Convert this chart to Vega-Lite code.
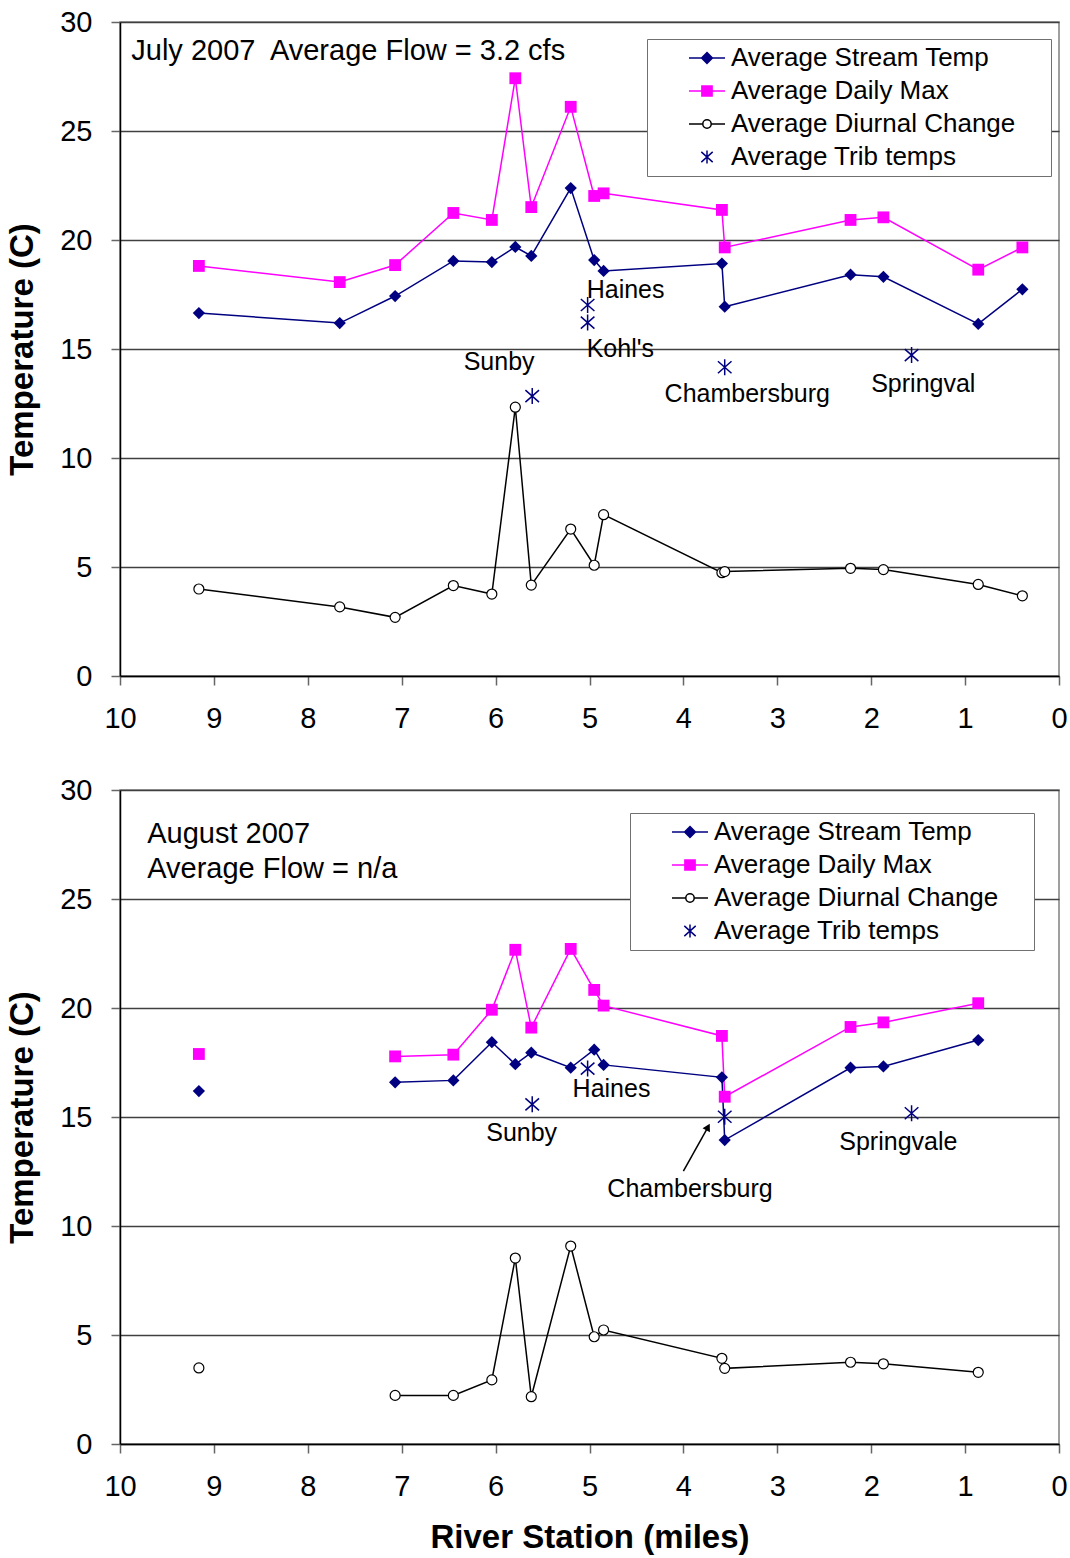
{
  "$schema": "https://vega.github.io/schema/vega-lite/v6.json",
  "description": "Stream temperatures along the river, July and August 2007.",
  "background": "white",
  "padding": {"left": 5, "top": 7, "right": 2, "bottom": 0},
  "spacing": 41,
  "config": {
    "font": "Liberation Sans",
    "view": {"stroke": "#808080", "strokeWidth": 1.5},
    "axis": {
      "labelFont": "Liberation Sans", "labelFontSize": 29, "labelColor": "black", "labelFlush": false,
      "titleFont": "Liberation Sans", "titleFontSize": 33, "titleFontWeight": "bold", "titleColor": "black",
      "domainColor": "black", "domainWidth": 1.5,
      "tickColor": "#666666", "tickWidth": 1.5, "tickSize": 9,
      "gridColor": "#404040", "gridWidth": 1.3
    },
    "axisX": {"grid": false, "labelPadding": 19, "titlePadding": 20},
    "axisY": {"labelPadding": 19, "titlePadding": 20},
    "legend": {
      "title": null, "labelFont": "Liberation Sans", "labelFontSize": 26, "labelColor": "black", "labelLimit": 600,
      "symbolSize": 144, "symbolOffset": 41, "labelOffset": 11, "rowPadding": 7, "padding": 6,
      "strokeColor": "#707070", "fillColor": "white"
    }
  },
  "resolve": {"scale": {"color": "independent"}, "legend": {"color": "independent"}},
  "datasets": {
    "july": [
      {"mile": 9.16, "series": "Average Stream Temp", "temp": 16.65, "run": 1},
      {"mile": 7.66, "series": "Average Stream Temp", "temp": 16.19, "run": 1},
      {"mile": 7.07, "series": "Average Stream Temp", "temp": 17.43, "run": 1},
      {"mile": 6.45, "series": "Average Stream Temp", "temp": 19.04, "run": 1},
      {"mile": 6.04, "series": "Average Stream Temp", "temp": 18.99, "run": 1},
      {"mile": 5.79, "series": "Average Stream Temp", "temp": 19.68, "run": 1},
      {"mile": 5.62, "series": "Average Stream Temp", "temp": 19.27, "run": 1},
      {"mile": 5.20, "series": "Average Stream Temp", "temp": 22.38, "run": 1},
      {"mile": 4.95, "series": "Average Stream Temp", "temp": 19.08, "run": 1},
      {"mile": 4.85, "series": "Average Stream Temp", "temp": 18.58, "run": 1},
      {"mile": 3.59, "series": "Average Stream Temp", "temp": 18.92, "run": 1},
      {"mile": 3.56, "series": "Average Stream Temp", "temp": 16.94, "run": 1},
      {"mile": 2.22, "series": "Average Stream Temp", "temp": 18.41, "run": 1},
      {"mile": 1.87, "series": "Average Stream Temp", "temp": 18.31, "run": 1},
      {"mile": 0.86, "series": "Average Stream Temp", "temp": 16.15, "run": 1},
      {"mile": 0.39, "series": "Average Stream Temp", "temp": 17.74, "run": 1},
      {"mile": 9.16, "series": "Average Daily Max", "temp": 18.81, "run": 1},
      {"mile": 7.66, "series": "Average Daily Max", "temp": 18.07, "run": 1},
      {"mile": 7.07, "series": "Average Daily Max", "temp": 18.85, "run": 1},
      {"mile": 6.45, "series": "Average Daily Max", "temp": 21.24, "run": 1},
      {"mile": 6.04, "series": "Average Daily Max", "temp": 20.92, "run": 1},
      {"mile": 5.79, "series": "Average Daily Max", "temp": 27.42, "run": 1},
      {"mile": 5.62, "series": "Average Daily Max", "temp": 21.51, "run": 1},
      {"mile": 5.20, "series": "Average Daily Max", "temp": 26.11, "run": 1},
      {"mile": 4.95, "series": "Average Daily Max", "temp": 22.02, "run": 1},
      {"mile": 4.85, "series": "Average Daily Max", "temp": 22.14, "run": 1},
      {"mile": 3.59, "series": "Average Daily Max", "temp": 21.38, "run": 1},
      {"mile": 3.56, "series": "Average Daily Max", "temp": 19.66, "run": 1},
      {"mile": 2.22, "series": "Average Daily Max", "temp": 20.92, "run": 1},
      {"mile": 1.87, "series": "Average Daily Max", "temp": 21.04, "run": 1},
      {"mile": 0.86, "series": "Average Daily Max", "temp": 18.64, "run": 1},
      {"mile": 0.39, "series": "Average Daily Max", "temp": 19.66, "run": 1},
      {"mile": 9.16, "series": "Average Diurnal Change", "temp": 3.99, "run": 1},
      {"mile": 7.66, "series": "Average Diurnal Change", "temp": 3.17, "run": 1},
      {"mile": 7.07, "series": "Average Diurnal Change", "temp": 2.69, "run": 1},
      {"mile": 6.45, "series": "Average Diurnal Change", "temp": 4.15, "run": 1},
      {"mile": 6.04, "series": "Average Diurnal Change", "temp": 3.76, "run": 1},
      {"mile": 5.79, "series": "Average Diurnal Change", "temp": 12.33, "run": 1},
      {"mile": 5.62, "series": "Average Diurnal Change", "temp": 4.17, "run": 1},
      {"mile": 5.20, "series": "Average Diurnal Change", "temp": 6.74, "run": 1},
      {"mile": 4.95, "series": "Average Diurnal Change", "temp": 5.08, "run": 1},
      {"mile": 4.85, "series": "Average Diurnal Change", "temp": 7.40, "run": 1},
      {"mile": 3.59, "series": "Average Diurnal Change", "temp": 4.74, "run": 1},
      {"mile": 3.56, "series": "Average Diurnal Change", "temp": 4.79, "run": 1},
      {"mile": 2.22, "series": "Average Diurnal Change", "temp": 4.94, "run": 1},
      {"mile": 1.87, "series": "Average Diurnal Change", "temp": 4.88, "run": 1},
      {"mile": 0.86, "series": "Average Diurnal Change", "temp": 4.20, "run": 1},
      {"mile": 0.39, "series": "Average Diurnal Change", "temp": 3.68, "run": 1},
      {"mile": 5.02, "series": "Average Trib temps", "temp": 17.02, "run": 0},
      {"mile": 5.02, "series": "Average Trib temps", "temp": 16.21, "run": 0},
      {"mile": 5.61, "series": "Average Trib temps", "temp": 12.84, "run": 0},
      {"mile": 3.56, "series": "Average Trib temps", "temp": 14.16, "run": 0},
      {"mile": 1.57, "series": "Average Trib temps", "temp": 14.72, "run": 0}
    ],
    "august": [
      {"mile": 9.16, "series": "Average Stream Temp", "temp": 16.19, "run": 0},
      {"mile": 7.07, "series": "Average Stream Temp", "temp": 16.59, "run": 1},
      {"mile": 6.45, "series": "Average Stream Temp", "temp": 16.68, "run": 1},
      {"mile": 6.04, "series": "Average Stream Temp", "temp": 18.43, "run": 1},
      {"mile": 5.79, "series": "Average Stream Temp", "temp": 17.42, "run": 1},
      {"mile": 5.62, "series": "Average Stream Temp", "temp": 17.95, "run": 1},
      {"mile": 5.20, "series": "Average Stream Temp", "temp": 17.26, "run": 1},
      {"mile": 4.95, "series": "Average Stream Temp", "temp": 18.09, "run": 1},
      {"mile": 4.85, "series": "Average Stream Temp", "temp": 17.39, "run": 1},
      {"mile": 3.59, "series": "Average Stream Temp", "temp": 16.82, "run": 1},
      {"mile": 3.56, "series": "Average Stream Temp", "temp": 13.94, "run": 1},
      {"mile": 2.22, "series": "Average Stream Temp", "temp": 17.26, "run": 1},
      {"mile": 1.87, "series": "Average Stream Temp", "temp": 17.32, "run": 1},
      {"mile": 0.86, "series": "Average Stream Temp", "temp": 18.53, "run": 1},
      {"mile": 9.16, "series": "Average Daily Max", "temp": 17.89, "run": 0},
      {"mile": 7.07, "series": "Average Daily Max", "temp": 17.78, "run": 1},
      {"mile": 6.45, "series": "Average Daily Max", "temp": 17.86, "run": 1},
      {"mile": 6.04, "series": "Average Daily Max", "temp": 19.92, "run": 1},
      {"mile": 5.79, "series": "Average Daily Max", "temp": 22.67, "run": 1},
      {"mile": 5.62, "series": "Average Daily Max", "temp": 19.10, "run": 1},
      {"mile": 5.20, "series": "Average Daily Max", "temp": 22.71, "run": 1},
      {"mile": 4.95, "series": "Average Daily Max", "temp": 20.83, "run": 1},
      {"mile": 4.85, "series": "Average Daily Max", "temp": 20.11, "run": 1},
      {"mile": 3.59, "series": "Average Daily Max", "temp": 18.72, "run": 1},
      {"mile": 3.56, "series": "Average Daily Max", "temp": 15.93, "run": 1},
      {"mile": 2.22, "series": "Average Daily Max", "temp": 19.13, "run": 1},
      {"mile": 1.87, "series": "Average Daily Max", "temp": 19.34, "run": 1},
      {"mile": 0.86, "series": "Average Daily Max", "temp": 20.22, "run": 1},
      {"mile": 9.16, "series": "Average Diurnal Change", "temp": 3.49, "run": 0},
      {"mile": 7.07, "series": "Average Diurnal Change", "temp": 2.23, "run": 1},
      {"mile": 6.45, "series": "Average Diurnal Change", "temp": 2.23, "run": 1},
      {"mile": 6.04, "series": "Average Diurnal Change", "temp": 2.94, "run": 1},
      {"mile": 5.79, "series": "Average Diurnal Change", "temp": 8.53, "run": 1},
      {"mile": 5.62, "series": "Average Diurnal Change", "temp": 2.17, "run": 1},
      {"mile": 5.20, "series": "Average Diurnal Change", "temp": 9.08, "run": 1},
      {"mile": 4.95, "series": "Average Diurnal Change", "temp": 4.92, "run": 1},
      {"mile": 4.85, "series": "Average Diurnal Change", "temp": 5.23, "run": 1},
      {"mile": 3.59, "series": "Average Diurnal Change", "temp": 3.93, "run": 1},
      {"mile": 3.56, "series": "Average Diurnal Change", "temp": 3.47, "run": 1},
      {"mile": 2.22, "series": "Average Diurnal Change", "temp": 3.75, "run": 1},
      {"mile": 1.87, "series": "Average Diurnal Change", "temp": 3.68, "run": 1},
      {"mile": 0.86, "series": "Average Diurnal Change", "temp": 3.29, "run": 1},
      {"mile": 5.61, "series": "Average Trib temps", "temp": 15.58, "run": 0},
      {"mile": 5.02, "series": "Average Trib temps", "temp": 17.22, "run": 0},
      {"mile": 3.56, "series": "Average Trib temps", "temp": 15.01, "run": 0},
      {"mile": 1.57, "series": "Average Trib temps", "temp": 15.17, "run": 0}
    ],
    "julyHead": [
      {"mile": 9.88, "temp": 28.67, "label": "July 2007\u00a0 Average Flow = 3.2 cfs"}
    ],
    "julyNotes": [
      {"mile": 5.03, "temp": 17.71, "label": "Haines"},
      {"mile": 5.03, "temp": 15.0, "label": "Kohl's"},
      {"mile": 6.34, "temp": 14.4, "label": "Sunby"},
      {"mile": 4.2, "temp": 12.94, "label": "Chambersburg"},
      {"mile": 2.0, "temp": 13.39, "label": "Springval"}
    ],
    "augHead": [
      {"mile": 9.71, "temp": 27.98, "label": "August 2007"},
      {"mile": 9.71, "temp": 26.38, "label": "Average Flow = n/a"}
    ],
    "augNotes": [
      {"mile": 5.18, "temp": 16.28, "label": "Haines"},
      {"mile": 6.1, "temp": 14.27, "label": "Sunby"},
      {"mile": 2.34, "temp": 13.85, "label": "Springvale"},
      {"mile": 4.81, "temp": 11.7, "label": "Chambersburg"}
    ],
    "augArrow": [
      {"mile": 4.0, "temp": 12.52, "mile2": 3.738, "temp2": 14.54}
    ]
  },
  "vconcat": [
    {
      "width": 939,
      "height": 654,
      "data": {"name": "july"},
      "encoding": {
        "x": {"field": "mile", "type": "quantitative", "scale": {"domain": [0, 10], "reverse": true, "nice": false}, "axis": {"values": [0, 1, 2, 3, 4, 5, 6, 7, 8, 9, 10], "title": null}},
        "y": {"field": "temp", "type": "quantitative", "scale": {"domain": [0, 30], "nice": false}, "axis": {"values": [0, 5, 10, 15, 20, 25, 30], "title": "Temperature (C)"}}
      },
      "layer": [
        {
          "transform": [{"filter": "datum.series !== 'Average Trib temps'"}],
          "mark": {"type": "line", "strokeWidth": 1.5},
          "encoding": {
            "detail": {"field": "run"},
            "color": {
              "field": "series", "type": "nominal",
              "scale": {"domain": ["Average Stream Temp", "Average Daily Max", "Average Diurnal Change", "Average Trib temps"], "range": ["#000080", "#FF00FF", "#000000", "#000080"]},
              "legend": {
                "orient": "none", "legendX": 527, "legendY": 17,
                "encode": {
                  "labels": {
                    "update": {
                      "text": {"signal": "datum.label + '\u00a0\u00a0\u00a0\u00a0\u200b'"}
                    }
                  },
                  "symbols": {
                    "update": {
                      "shape": {"signal": "datum.value === 'Average Stream Temp' ? 'M-3,0L3,0M0,-0.9L0.9,0L0,0.9L-0.9,0Z' : datum.value === 'Average Daily Max' ? 'M-3,0L3,0M-0.85,-0.85L0.85,-0.85L0.85,0.85L-0.85,0.85Z' : datum.value === 'Average Diurnal Change' ? 'M-3,0L-0.7,0M0.7,0L3,0M-0.7,0A0.7,0.7,0,1,0,0.7,0A0.7,0.7,0,1,0,-0.7,0Z' : 'M-0.95,-0.85L0.95,0.85M0.95,-0.85L-0.95,0.85M0,-1.1L0,1.1'"},
                      "fill": {"signal": "datum.value === 'Average Stream Temp' ? '#000080' : datum.value === 'Average Daily Max' ? '#FF00FF' : datum.value === 'Average Diurnal Change' ? 'white' : 'transparent'"},
                      "stroke": {"signal": "datum.value === 'Average Daily Max' ? '#FF00FF' : datum.value === 'Average Diurnal Change' ? 'black' : '#000080'"},
                      "strokeWidth": {"value": 1.5},
                      "opacity": {"value": 1}
                    }
                  }
                }
              }
            }
          }
        },
        {
          "transform": [{"filter": "datum.series === 'Average Stream Temp'"}],
          "mark": {"type": "point", "shape": "diamond", "filled": true, "color": "#000080", "size": 150, "opacity": 1}
        },
        {
          "transform": [{"filter": "datum.series === 'Average Daily Max'"}],
          "mark": {"type": "point", "shape": "square", "filled": true, "color": "#FF00FF", "size": 140, "opacity": 1}
        },
        {
          "transform": [{"filter": "datum.series === 'Average Diurnal Change'"}],
          "mark": {"type": "point", "shape": "circle", "fill": "white", "stroke": "black", "strokeWidth": 1.2, "size": 100, "opacity": 1}
        },
        {
          "transform": [{"filter": "datum.series === 'Average Trib temps'"}],
          "mark": {"type": "point", "shape": "M-0.85,-0.75L0.85,0.75M0.85,-0.75L-0.85,0.75M0,-1L0,1", "filled": false, "stroke": "#000080", "strokeWidth": 1.5, "size": 256, "opacity": 1}
        },
        {
          "data": {"name": "julyHead"},
          "mark": {"type": "text", "align": "left", "baseline": "middle", "font": "Liberation Sans", "fontSize": 29, "color": "black"},
          "encoding": {"text": {"field": "label"}}
        },
        {
          "data": {"name": "julyNotes"},
          "mark": {"type": "text", "align": "left", "baseline": "middle", "font": "Liberation Sans", "fontSize": 25, "color": "black"},
          "encoding": {"text": {"field": "label"}}
        }
      ]
    },
    {
      "width": 939,
      "height": 654,
      "data": {"name": "august"},
      "encoding": {
        "x": {"field": "mile", "type": "quantitative", "scale": {"domain": [0, 10], "reverse": true, "nice": false}, "axis": {"values": [0, 1, 2, 3, 4, 5, 6, 7, 8, 9, 10], "title": "River Station (miles)"}},
        "y": {"field": "temp", "type": "quantitative", "scale": {"domain": [0, 30], "nice": false}, "axis": {"values": [0, 5, 10, 15, 20, 25, 30], "title": "Temperature (C)"}}
      },
      "layer": [
        {
          "transform": [{"filter": "datum.series !== 'Average Trib temps'"}],
          "mark": {"type": "line", "strokeWidth": 1.5},
          "encoding": {
            "detail": {"field": "run"},
            "color": {
              "field": "series", "type": "nominal",
              "scale": {"domain": ["Average Stream Temp", "Average Daily Max", "Average Diurnal Change", "Average Trib temps"], "range": ["#000080", "#FF00FF", "#000000", "#000080"]},
              "legend": {
                "orient": "none", "legendX": 510, "legendY": 23,
                "encode": {
                  "labels": {
                    "update": {
                      "text": {"signal": "datum.label + '\u00a0\u00a0\u00a0\u00a0\u200b'"}
                    }
                  },
                  "symbols": {
                    "update": {
                      "shape": {"signal": "datum.value === 'Average Stream Temp' ? 'M-3,0L3,0M0,-0.9L0.9,0L0,0.9L-0.9,0Z' : datum.value === 'Average Daily Max' ? 'M-3,0L3,0M-0.85,-0.85L0.85,-0.85L0.85,0.85L-0.85,0.85Z' : datum.value === 'Average Diurnal Change' ? 'M-3,0L-0.7,0M0.7,0L3,0M-0.7,0A0.7,0.7,0,1,0,0.7,0A0.7,0.7,0,1,0,-0.7,0Z' : 'M-0.95,-0.85L0.95,0.85M0.95,-0.85L-0.95,0.85M0,-1.1L0,1.1'"},
                      "fill": {"signal": "datum.value === 'Average Stream Temp' ? '#000080' : datum.value === 'Average Daily Max' ? '#FF00FF' : datum.value === 'Average Diurnal Change' ? 'white' : 'transparent'"},
                      "stroke": {"signal": "datum.value === 'Average Daily Max' ? '#FF00FF' : datum.value === 'Average Diurnal Change' ? 'black' : '#000080'"},
                      "strokeWidth": {"value": 1.5},
                      "opacity": {"value": 1}
                    }
                  }
                }
              }
            }
          }
        },
        {
          "transform": [{"filter": "datum.series === 'Average Stream Temp'"}],
          "mark": {"type": "point", "shape": "diamond", "filled": true, "color": "#000080", "size": 150, "opacity": 1}
        },
        {
          "transform": [{"filter": "datum.series === 'Average Daily Max'"}],
          "mark": {"type": "point", "shape": "square", "filled": true, "color": "#FF00FF", "size": 140, "opacity": 1}
        },
        {
          "transform": [{"filter": "datum.series === 'Average Diurnal Change'"}],
          "mark": {"type": "point", "shape": "circle", "fill": "white", "stroke": "black", "strokeWidth": 1.2, "size": 100, "opacity": 1}
        },
        {
          "transform": [{"filter": "datum.series === 'Average Trib temps'"}],
          "mark": {"type": "point", "shape": "M-0.85,-0.75L0.85,0.75M0.85,-0.75L-0.85,0.75M0,-1L0,1", "filled": false, "stroke": "#000080", "strokeWidth": 1.5, "size": 256, "opacity": 1}
        },
        {
          "data": {"name": "augHead"},
          "mark": {"type": "text", "align": "left", "baseline": "middle", "font": "Liberation Sans", "fontSize": 29, "color": "black"},
          "encoding": {"text": {"field": "label"}}
        },
        {
          "data": {"name": "augNotes"},
          "mark": {"type": "text", "align": "left", "baseline": "middle", "font": "Liberation Sans", "fontSize": 25, "color": "black"},
          "encoding": {"text": {"field": "label"}}
        },
        {
          "data": {"name": "augArrow"},
          "mark": {"type": "rule", "color": "black", "strokeWidth": 1.5},
          "encoding": {"x2": {"field": "mile2"}, "y2": {"field": "temp2"}}
        },
        {
          "data": {"name": "augArrow"},
          "mark": {"type": "point", "shape": "triangle-up", "filled": true, "color": "black", "size": 70, "angle": 29, "opacity": 1},
          "encoding": {"x": {"field": "mile2", "type": "quantitative"}, "y": {"field": "temp2", "type": "quantitative"}}
        }
      ]
    }
  ]
}
